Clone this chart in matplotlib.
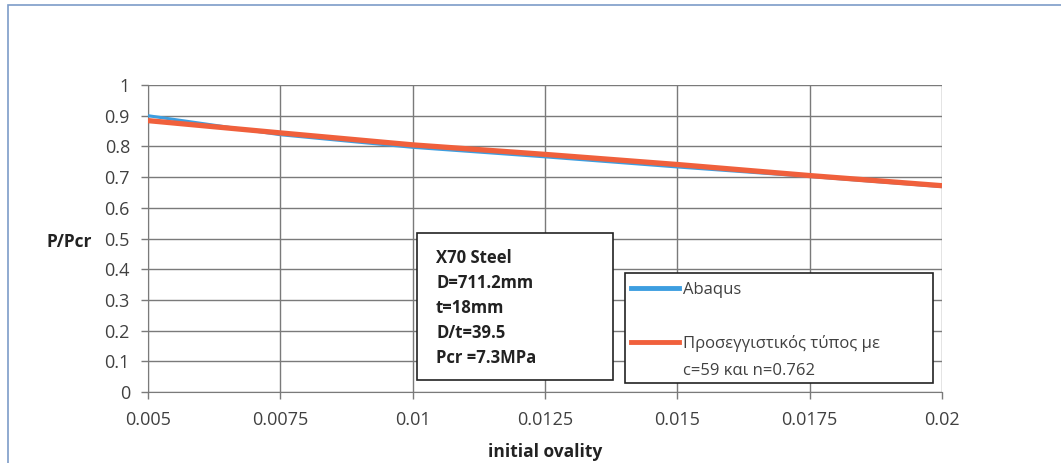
import matplotlib
matplotlib.use("Agg")
import matplotlib.pyplot as plt
from matplotlib.lines import Line2D
from matplotlib.patches import Rectangle

plt.rcParams['font.family'] = ['Open Sans', 'DejaVu Sans']

# initial ovality values and normalised collapse pressure
ovality = [0.005, 0.0075, 0.01, 0.0125, 0.015, 0.0175, 0.02]
abaqus = [0.900, 0.838, 0.797, 0.766, 0.733, 0.702, 0.669]
approx = [0.884, 0.844, 0.805, 0.774, 0.741, 0.705, 0.672]

x_ticks = [0.005, 0.0075, 0.01, 0.0125, 0.015, 0.0175, 0.02]
x_ticklabels = ["0.005", "0.0075", "0.01", "0.0125", "0.015", "0.0175", "0.02"]
y_ticks = [0, 0.1, 0.2, 0.3, 0.4, 0.5, 0.6, 0.7, 0.8, 0.9, 1]
y_ticklabels = ["0", "0.1", "0.2", "0.3", "0.4", "0.5", "0.6", "0.7", "0.8", "0.9", "1"]

label_abaqus = "Abaqus"
label_approx = ["Προσεγγιστικός τύπος με", "c=59 και n=0.762"]
info_lines = ["X70 Steel", "D=711.2mm", "t=18mm", "D/t=39.5", "Pcr =7.3MPa"]

blue = "#3d9ee0"
red = "#f0603c"
grid_col = "#7a7a7a"
text_col = "#404040"

W, H = 1061, 463


def fx(px):
    return px / W


def fy(py):
    return 1 - py / H


fig = plt.figure(figsize=(W / 100, H / 100), dpi=100)
ax = fig.add_axes([fx(148), fy(392), fx(942) - fx(148), fy(85) - fy(392)])

# outer chart frame (only top and left edges show)
fig.patches.append(Rectangle((fx(8), -0.1), 1.2, fy(5) + 0.1,
                             transform=fig.transFigure, fill=False,
                             edgecolor="#7d9cc8", linewidth=1.2))

ax.plot(ovality, abaqus, color=blue, lw=2.2, solid_capstyle="butt", zorder=3)
ax.plot(ovality, approx, color=red, lw=3.8, solid_capstyle="butt", zorder=4)

ax.set_xlim(0.005, 0.02)
ax.set_ylim(0, 1)
ax.set_xticks(x_ticks)
ax.set_xticklabels(x_ticklabels)
ax.set_yticks(y_ticks)
ax.set_yticklabels(y_ticklabels)
ax.grid(True, color=grid_col, lw=1.0)
ax.set_axisbelow(True)
for side in ["top", "right"]:
    ax.spines[side].set_visible(False)
for side in ["left", "bottom"]:
    ax.spines[side].set_color(grid_col)
ax.tick_params(axis="both", direction="out", length=5, width=1, color=grid_col,
               labelsize=13, labelcolor=text_col)
ax.tick_params(axis="x", pad=9)
ax.tick_params(axis="y", pad=8)

ax.set_xlabel("initial ovality", fontsize=12.5, fontweight="bold", color="#222222", labelpad=10)
ax.set_ylabel("P/Pcr", fontsize=12.5, fontweight="bold", color="#222222", rotation=0,
              ha="right", va="center")
ax.yaxis.set_label_coords((92 - 148) / 794, 0.489)

# specimen data box
fig.patches.append(Rectangle((fx(417), fy(380)), fx(613) - fx(417), fy(233) - fy(380),
                             transform=fig.transFigure, facecolor="white",
                             edgecolor="#222222", linewidth=1.2, zorder=5))
for i, line in enumerate(info_lines):
    fig.text(fx(436), fy(256 + 25 * i), line, fontsize=12, fontweight="bold",
             color="#222222", va="center_baseline", ha="left", zorder=6)

# legend box drawn by hand so the red key sits on the first label line
fig.patches.append(Rectangle((fx(625), fy(383)), fx(933) - fx(625), fy(273) - fy(383),
                             transform=fig.transFigure, facecolor="white",
                             edgecolor="#222222", linewidth=1.2, zorder=5))
fig.lines.append(Line2D([fx(631), fx(679)], [fy(288), fy(288)], transform=fig.transFigure,
                        color=blue, lw=3.5, zorder=6))
fig.lines.append(Line2D([fx(631), fx(679)], [fy(342), fy(342)], transform=fig.transFigure,
                        color=red, lw=3.5, zorder=6))
fig.text(fx(683), fy(288), label_abaqus, fontsize=12, color=text_col,
         va="center_baseline", ha="left", zorder=6)
fig.text(fx(683), fy(342), label_approx[0], fontsize=12, color=text_col,
         va="center_baseline", ha="left", zorder=6)
fig.text(fx(683), fy(369), label_approx[1], fontsize=12, color=text_col,
         va="center_baseline", ha="left", zorder=6)

fig.savefig("out.png", dpi=100)
